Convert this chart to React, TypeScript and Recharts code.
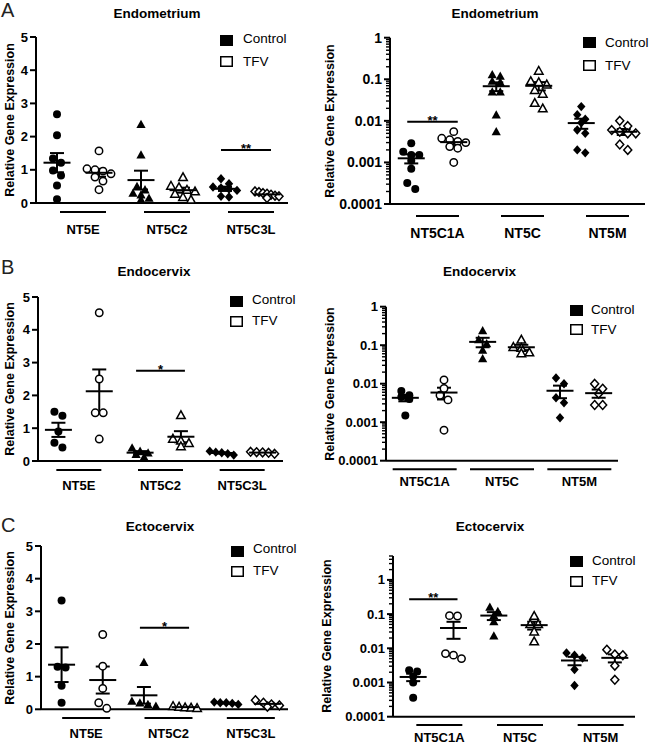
import React from "react";
import { ScatterChart, Scatter, XAxis, YAxis, ErrorBar } from "recharts";

// ---------- labels ----------
const TISSUES = ["Endometrium", "Endocervix", "Ectocervix"];
const PANEL_LETTERS = ["A", "B", "C"];
const LINEAR_GENES = ["NT5E", "NT5C2", "NT5C3L"];
const LOG_GENES = ["NT5C1A", "NT5C", "NT5M"];
const TREATMENTS = ["Control", "TFV"];
const Y_LABEL = "Relative Gene Expression";
const LINEAR_TICKS = [0, 1, 2, 3, 4, 5];
const LOG_TICKS = [0.0001, 0.001, 0.01, 0.1, 1];

// ---------- data (rows follow the gene order) ----------
const endometriumLinearControl = [
  [2.67, 2.04, 1.34, 1.21, 0.98, 0.83, 0.53, 0.11],
  [2.37, 1.45, 0.5, 0.4, 0.3, 0.25, 0.15, 0.1],
  [0.73, 0.58, 0.48, 0.45, 0.42, 0.38, 0.2, 0.18],
];
const endometriumLinearTFV = [
  [1.57, 1.03, 1.0, 0.96, 0.88, 0.78, 0.66, 0.4],
  [0.78, 0.52, 0.48, 0.4, 0.35, 0.28, 0.18, 0.1],
  [0.35, 0.33, 0.3, 0.28, 0.25, 0.22, 0.2, 0.15],
];
const endometriumLogControl = [
  [0.0029, 0.0018, 0.0015, 0.0015, 0.0011, 0.0007, 0.00032, 0.00023],
  [0.13, 0.12, 0.09, 0.085, 0.05, 0.05, 0.014, 0.0055],
  [0.022, 0.014, 0.011, 0.009, 0.006, 0.005, 0.002, 0.0017],
];
const endometriumLogTFV = [
  [0.0055, 0.0038, 0.0035, 0.0032, 0.003, 0.0024, 0.0022, 0.001],
  [0.16, 0.09, 0.085, 0.075, 0.055, 0.045, 0.027, 0.02],
  [0.01, 0.0075, 0.006, 0.0055, 0.005, 0.005, 0.0027, 0.002],
];
const endocervixLinearControl = [
  [1.5, 1.38, 0.9, 0.56, 0.41],
  [0.4, 0.3, 0.25, 0.2, 0.12],
  [0.3, 0.27, 0.25, 0.22, 0.18],
];
const endocervixLinearTFV = [
  [4.52, 2.5, 1.47, 1.47, 0.67],
  [1.4, 0.68, 0.62, 0.55, 0.45],
  [0.28, 0.27, 0.26, 0.25, 0.22],
];
const endocervixLogControl = [
  [0.0065, 0.005, 0.0045, 0.004, 0.0015],
  [0.24, 0.14, 0.11, 0.075, 0.045],
  [0.014, 0.01, 0.0043, 0.0032, 0.0013],
];
const endocervixLogTFV = [
  [0.0125, 0.0075, 0.005, 0.0038, 0.00062],
  [0.14, 0.09, 0.085, 0.065, 0.062],
  [0.0099, 0.0074, 0.0055, 0.0028, 0.0028],
];
const ectocervixLinearControl = [
  [3.33, 1.3, 1.28, 0.72, 0.2],
  [1.44, 0.25, 0.2, 0.15, 0.1],
  [0.22, 0.2, 0.2, 0.18, 0.15],
];
const ectocervixLinearTFV = [
  [2.29, 1.32, 0.64, 0.2, 0.03],
  [0.1, 0.08, 0.06, 0.05, 0.04],
  [0.28, 0.2, 0.15, 0.12, 0.08],
];
const ectocervixLogControl = [
  [0.0023, 0.0021, 0.0015, 0.001, 0.00036],
  [0.16, 0.12, 0.09, 0.06, 0.023],
  [0.0073, 0.0063, 0.0052, 0.0024, 0.00082],
];
const ectocervixLogTFV = [
  [0.09, 0.088, 0.007, 0.0063, 0.005],
  [0.089, 0.051, 0.051, 0.031, 0.016],
  [0.0091, 0.0066, 0.0063, 0.0031, 0.0012],
];

type Sig = { from: number; to: number; level: number; mark: string };
const sigEndometriumLinear: Sig[] = [{ from: 5, to: 6, level: 1.6, mark: "**" }];
const sigEndometriumLog: Sig[] = [{ from: 1, to: 2, level: 0.0095, mark: "**" }];
const sigEndocervixLinear: Sig[] = [{ from: 3, to: 4, level: 2.75, mark: "*" }];
const sigEndocervixLog: Sig[] = [];
const sigEctocervixLinear: Sig[] = [{ from: 3, to: 4, level: 2.5, mark: "*" }];
const sigEctocervixLog: Sig[] = [{ from: 1, to: 2, level: 0.27, mark: "**" }];

// ---------- layout / styling ----------
const FONT = "'Liberation Sans', Arial, Helvetica, sans-serif";
const XH = 25;
const YW = 30;

type Cfg = {
  row: number;
  kind: "linear" | "log";
  control: number[][];
  tfv: number[][];
  sig: Sig[];
  box: { x: number; y: number; w: number; h: number };
  plot: { L: number; R: number; T: number; B: number };
  domain: [number, number];
  ulDy: number;
  lblDy: number;
  half: number;
  catDx: number;
  tickFont: number;
  catFont: number;
  title: { x: number; y: number };
  ylab: { x: number; y: number };
  legend: { sx: number; sy1: number; sy2: number; tx: number; ty1: number; ty2: number };
  letter?: { x: number; y: number };
};

const panels: Cfg[] = [
  {
    row: 0, kind: "linear", control: endometriumLinearControl, tfv: endometriumLinearTFV, sig: sigEndometriumLinear,
    box: { x: 0, y: 0, w: 305, h: 245 }, plot: { L: 36, R: 288, T: 37, B: 203 }, domain: [0, 5],
    ulDy: 9, lblDy: 26, half: 23, catDx: 5, tickFont: 13, catFont: 13,
    title: { x: 157, y: 18 }, ylab: { x: 10, y: 120 },
    legend: { sx: 220, sy1: 35, sy2: 56, tx: 243, ty1: 43, ty2: 66 }, letter: { x: 1, y: 17 },
  },
  {
    row: 0, kind: "log", control: endometriumLogControl, tfv: endometriumLogTFV, sig: sigEndometriumLog,
    box: { x: 320, y: 0, w: 330, h: 245 }, plot: { L: 390, R: 645, T: 37.7, B: 204 }, domain: [0.0001, 1],
    ulDy: 12, lblDy: 29, half: 21.5, catDx: 5, tickFont: 14, catFont: 14,
    title: { x: 495, y: 18 }, ylab: { x: 330, y: 121 },
    legend: { sx: 583, sy1: 37, sy2: 60, tx: 605, ty1: 47, ty2: 70 },
  },
  {
    row: 1, kind: "linear", control: endocervixLinearControl, tfv: endocervixLinearTFV, sig: sigEndocervixLinear,
    box: { x: 0, y: 250, w: 305, h: 255 }, plot: { L: 38, R: 283, T: 297, B: 461 }, domain: [0, 5],
    ulDy: 9, lblDy: 24, half: 22.5, catDx: 0, tickFont: 13, catFont: 13,
    title: { x: 154, y: 276 }, ylab: { x: 10, y: 379 },
    legend: { sx: 230, sy1: 296, sy2: 316, tx: 252, ty1: 304, ty2: 325 }, letter: { x: 1, y: 274 },
  },
  {
    row: 1, kind: "log", control: endocervixLogControl, tfv: endocervixLogTFV, sig: sigEndocervixLog,
    box: { x: 320, y: 250, w: 330, h: 255 }, plot: { L: 386, R: 618, T: 306.7, B: 460.7 }, domain: [0.0001, 1],
    ulDy: 8.6, lblDy: 21, half: 32, catDx: 0, tickFont: 13, catFont: 13,
    title: { x: 479.5, y: 275.5 }, ylab: { x: 330, y: 384 },
    legend: { sx: 570, sy1: 305, sy2: 324, tx: 591, ty1: 314, ty2: 334 },
  },
  {
    row: 2, kind: "linear", control: ectocervixLinearControl, tfv: ectocervixLinearTFV, sig: sigEctocervixLinear,
    box: { x: 0, y: 500, w: 305, h: 246 }, plot: { L: 41, R: 288, T: 546, B: 709.3 }, domain: [0, 5],
    ulDy: 8.7, lblDy: 24, half: 24, catDx: 4, tickFont: 13, catFont: 13,
    title: { x: 160, y: 531 }, ylab: { x: 10, y: 628 },
    legend: { sx: 231, sy1: 546, sy2: 566, tx: 253, ty1: 553, ty2: 575 }, letter: { x: 1, y: 532 },
  },
  {
    row: 2, kind: "log", control: ectocervixLogControl, tfv: ectocervixLogTFV, sig: sigEctocervixLog,
    box: { x: 320, y: 500, w: 330, h: 246 }, plot: { L: 393, R: 635, T: 556, B: 716.7 }, domain: [0.0001, 5],
    ulDy: 8.3, lblDy: 21, half: 23, catDx: 6, tickFont: 13, catFont: 13,
    title: { x: 490, y: 531 }, ylab: { x: 327, y: 636 },
    legend: { sx: 570, sy1: 556, sy2: 576, tx: 592, ty1: 565, ty2: 585 },
  },
];

// ---------- helpers ----------
function meanSem(arr: number[]) {
  const n = arr.length;
  const m = arr.reduce((a, b) => a + b, 0) / n;
  const sd = Math.sqrt(arr.reduce((a, b) => a + (b - m) * (b - m), 0) / (n - 1));
  return { mean: m, sem: sd / Math.sqrt(n) };
}

function swarm(values: number[], toPx: (v: number) => number): number[] {
  const idx = values.map((_, i) => i).sort((a, b) => toPx(values[a]) - toPx(values[b]));
  const dx = new Array(values.length).fill(0);
  let row: number[] = [];
  const flush = () => {
    const n = row.length;
    if (n > 1) {
      const sp = Math.min(8, 24 / (n - 1));
      row.forEach((k, j) => {
        dx[k] = (j - (n - 1) / 2) * sp;
      });
    }
    row = [];
  };
  for (const k of idx) {
    if (row.length && toPx(values[k]) - toPx(values[row[0]]) >= 6) flush();
    row.push(k);
  }
  flush();
  return dx;
}

function minorLogTicks(domain: [number, number]) {
  const out: number[] = [];
  const lo = Math.round(Math.log10(domain[0]));
  const hi = Math.ceil(Math.log10(domain[1]));
  for (let e = lo; e <= hi; e++) {
    for (let m = 2; m <= 9; m++) {
      const v = parseFloat((m * Math.pow(10, e)).toPrecision(3));
      if (v < domain[1] + 1e-12 && v > domain[0]) out.push(v);
    }
  }
  return out;
}

function Marker({ cx, cy, shape, open }: { cx: number; cy: number; shape: number; open: boolean }) {
  const fill = open ? "#fff" : "#000";
  const stroke = "#000";
  const sw = open ? 1.5 : 0;
  if (shape === 0) {
    return <circle cx={cx} cy={cy} r={open ? 3.7 : 4} fill={fill} stroke={stroke} strokeWidth={sw} />;
  }
  if (shape === 1) {
    const s = open ? 4.3 : 4.6;
    return (
      <polygon
        points={`${cx},${cy - s} ${cx - s},${cy + s * 0.8} ${cx + s},${cy + s * 0.8}`}
        fill={fill}
        stroke={stroke}
        strokeWidth={sw}
        strokeLinejoin="miter"
      />
    );
  }
  const h = open ? 4.4 : 4.7;
  const w = open ? 4.0 : 4.2;
  return (
    <polygon
      points={`${cx},${cy - h} ${cx + w},${cy} ${cx},${cy + h} ${cx - w},${cy}`}
      fill={fill}
      stroke={stroke}
      strokeWidth={sw}
    />
  );
}

function Panel({ cfg }: { cfg: Cfg }) {
  const { box, plot, domain } = cfg;
  const isLog = cfg.kind === "log";
  const genes = isLog ? LOG_GENES : LINEAR_GENES;
  const margin = {
    top: plot.T - box.y,
    bottom: box.y + box.h - plot.B - XH,
    left: plot.L - box.x - YW,
    right: box.x + box.w - plot.R,
  };
  const unitPx = (plot.R - plot.L) / 6;
  const toPx = (v: number) =>
    isLog
      ? plot.B -
        ((Math.log10(v) - Math.log10(domain[0])) / (Math.log10(domain[1]) - Math.log10(domain[0]))) * (plot.B - plot.T)
      : plot.B - ((v - domain[0]) / (domain[1] - domain[0])) * (plot.B - plot.T);

  const groups: { pts: any[]; shape: number; open: boolean; summary: any }[] = [];
  genes.forEach((_, gi) => {
    [cfg.control, cfg.tfv].forEach((arr, ti) => {
      const vals = arr[gi];
      const dx = swarm(vals, toPx);
      const x = gi * 2 + ti + 1;
      const pts = vals.map((v, i) => ({ x, y: v, dx: dx[i] }));
      const ms = meanSem(vals);
      groups.push({ pts, shape: gi, open: ti === 1, summary: { x, y: ms.mean, sem: ms.sem } });
    });
  });
  const summary = groups.map((g) => g.summary);
  const sigPts = cfg.sig.map((s) => ({ x: (s.from + s.to) / 2, y: s.level, mark: s.mark, span: s.to - s.from }));
  // minor log ticks: anchored on the first category column, drawn back at the axis line
  const minorPts = isLog ? minorLogTicks(domain).map((v) => ({ x: 1, y: v })) : [];

  const catTicks = [1.5, 3.5, 5.5];
  const yTicks = isLog ? LOG_TICKS.filter((t) => t <= domain[1]) : LINEAR_TICKS;

  const xTick = (p: any) => {
    const { x, y, payload } = p;
    const i = Math.round((payload.value - 1.5) / 2);
    const cx = x + cfg.catDx;
    return (
      <g>
        <line x1={cx - cfg.half} x2={cx + cfg.half} y1={y + cfg.ulDy} y2={y + cfg.ulDy} stroke="#000" strokeWidth={2} />
        <text
          x={cx}
          y={y + cfg.lblDy}
          dy="0.35em"
          textAnchor="middle"
          fontFamily={FONT}
          fontWeight="bold"
          fontSize={cfg.catFont}
          fill="#000"
        >
          {genes[i]}
        </text>
      </g>
    );
  };

  const yTick = (p: any) => {
    const { x, y, payload } = p;
    const v = payload.value;
    return (
      <g>
        <line x1={x} x2={x - 6} y1={y} y2={y} stroke="#000" strokeWidth={2} />
        <text
          x={x - 8}
          y={y}
          dy="0.35em"
          textAnchor="end"
          fontFamily={FONT}
          fontWeight="bold"
          fontSize={cfg.tickFont}
          fill="#000"
        >
          {String(v)}
        </text>
      </g>
    );
  };

  return (
    <div style={{ position: "absolute", left: box.x, top: box.y }}>
      <ScatterChart width={box.w} height={box.h} margin={margin}>
        <XAxis
          type="number"
          dataKey="x"
          domain={[0.5, 6.5]}
          ticks={catTicks}
          interval={0}
          tickSize={0}
          tickMargin={0}
          height={XH}
          axisLine={{ stroke: "#000", strokeWidth: 2 }}
          tickLine={false}
          tick={xTick}
        />
        <YAxis
          type="number"
          dataKey="y"
          scale={isLog ? "log" : "linear"}
          domain={domain}
          ticks={yTicks}
          interval={0}
          width={YW}
          tickSize={0}
          tickMargin={0}
          tickLine={false}
          axisLine={{ stroke: "#000", strokeWidth: 2 }}
          tick={yTick}
        />
        {minorPts.length > 0 && (
          <Scatter
            data={minorPts}
            isAnimationActive={false}
            shape={(p: any) => (
              <line
                x1={p.cx - unitPx / 2}
                x2={p.cx - unitPx / 2 - 4}
                y1={p.cy}
                y2={p.cy}
                stroke="#000"
                strokeWidth={1.4}
              />
            )}
          />
        )}
        {groups.map((g, k) => (
          <Scatter
            key={"pts" + k}
            data={g.pts}
            isAnimationActive={false}
            shape={(p: any) => <Marker cx={p.cx + (p.payload?.dx || 0)} cy={p.cy} shape={g.shape} open={g.open} />}
          />
        ))}
        <Scatter
          data={summary}
          isAnimationActive={false}
          shape={(p: any) => (
            <line x1={p.cx - 13.5} x2={p.cx + 13.5} y1={p.cy} y2={p.cy} stroke="#000" strokeWidth={2} />
          )}
        >
          <ErrorBar dataKey="sem" direction="y" width={7} stroke="#000" strokeWidth={2} isAnimationActive={false} />
        </Scatter>
        {sigPts.length > 0 && (
          <Scatter
            data={sigPts}
            isAnimationActive={false}
            shape={(p: any) => {
              const hl = (p.payload.span * unitPx) / 2 + 4;
              return (
                <g>
                  <line x1={p.cx - hl} x2={p.cx + hl} y1={p.cy} y2={p.cy} stroke="#000" strokeWidth={2} />
                  <text
                    x={p.cx}
                    y={p.cy + 3}
                    textAnchor="middle"
                    fontFamily={FONT}
                    fontWeight="bold"
                    fontSize={13}
                    fill="#000"
                  >
                    {p.payload.mark}
                  </text>
                </g>
              );
            }}
          />
        )}
      </ScatterChart>
    </div>
  );
}

function Overlay() {
  return (
    <svg
      width={650}
      height={746}
      style={{ position: "absolute", left: 0, top: 0, pointerEvents: "none" }}
    >
      {panels.map((c, k) => (
        <g key={k} fontFamily={FONT}>
          {c.letter && (
            <text x={c.letter.x} y={c.letter.y} fontSize={20} fill="#222">
              {PANEL_LETTERS[c.row]}
            </text>
          )}
          <text x={c.title.x} y={c.title.y} textAnchor="middle" fontWeight="bold" fontSize={13.5} fill="#000">
            {TISSUES[c.row]}
          </text>
          <text
            x={c.ylab.x}
            y={c.ylab.y}
            textAnchor="middle"
            dy="0.35em"
            fontWeight="bold"
            fontSize={12.5}
            fill="#000"
            transform={`rotate(-90 ${c.ylab.x} ${c.ylab.y})`}
          >
            {Y_LABEL}
          </text>
          <rect x={c.legend.sx} y={c.legend.sy1} width={13} height={11} fill="#000" />
          <text x={c.legend.tx} y={c.legend.ty1} fontSize={13.5} fill="#000">
            {TREATMENTS[0]}
          </text>
          <rect
            x={c.legend.sx + 0.75}
            y={c.legend.sy2 + 0.75}
            width={11.5}
            height={9.5}
            fill="#fff"
            stroke="#000"
            strokeWidth={1.5}
          />
          <text x={c.legend.tx} y={c.legend.ty2} fontSize={13.5} fill="#000">
            {TREATMENTS[1]}
          </text>
        </g>
      ))}
    </svg>
  );
}

export default function App() {
  return (
    <div
      style={{
        position: "absolute",
        left: 0,
        top: 0,
        width: 650,
        height: 746,
        background: "#fff",
        overflow: "hidden",
      }}
    >
      {panels.map((c, k) => (
        <Panel key={k} cfg={c} />
      ))}
      <Overlay />
    </div>
  );
}
